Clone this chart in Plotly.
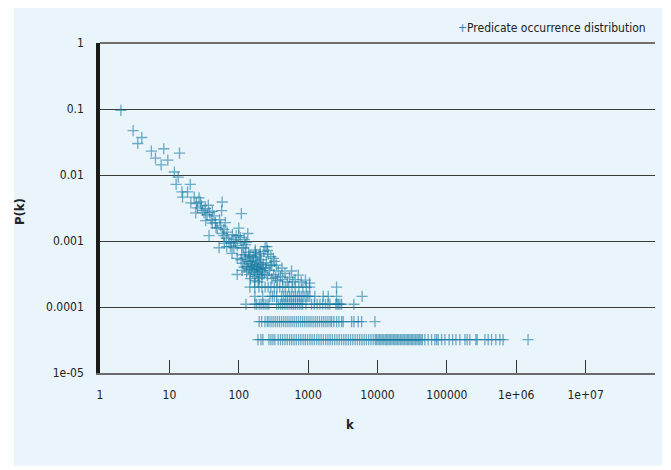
import plotly.graph_objects as go

# ---------------- data ----------------
# sparse head and diagonal cloud: occurrence count k and probability P(k)
cloud_k = [2, 3, 4, 3.5, 5.5, 8.3, 6.3, 9.5, 7.6, 14, 11.8, 13.4, 12.5, 20,
           15.2, 18.3, 15.5, 22.8, 26.8, 20.4, 24.5, 28.2, 25.4, 36.4, 24, 31.6, 41.6, 57.7, 56.6, 109,
           33.4, 41.6, 49, 37.3, 68, 100, 106, 90, 72, 76, 52, 111, 173, 240,
           29, 33, 30, 35, 38, 44, 40, 46, 53, 47, 55, 61, 64, 58, 66, 81, 85, 92, 78, 62, 95, 120, 130, 125, 135,
           61, 100, 67, 85, 118, 80, 95, 111, 139, 173, 204, 254, 316, 299, 95, 373, 464, 577, 720, 915,
           108, 115, 122, 128, 134, 140, 146, 152, 158, 164, 170, 176, 182, 188, 195, 202, 210, 218, 226,
           112, 120, 130, 138, 144, 150, 155, 160, 168, 172, 180, 186, 192, 198, 205, 212, 222,
           126, 145, 162, 178, 200, 148, 170, 190, 215, 235, 245, 250, 260, 275, 285, 300, 320, 340, 360,
           400, 430, 500, 540, 600, 650, 800, 1050,
           230, 265, 290, 330, 350, 420, 260]
cloud_p = [0.095, 0.047, 0.037, 0.030, 0.023, 0.025, 0.018, 0.0168, 0.0142, 0.0214, 0.0111, 0.0093, 0.0072, 0.0072,
           0.00556, 0.00556, 0.00461, 0.00461, 0.0045, 0.00378, 0.0037, 0.0039, 0.00317, 0.00348, 0.00266, 0.00266, 0.00282, 0.0039, 0.00289, 0.0026,
           0.00203, 0.00187, 0.00157, 0.00121, 0.00136, 0.00157, 0.00113, 0.000925, 0.00098, 0.00082, 0.00079, 0.00079, 0.00073, 0.00082,
           0.0034, 0.0031, 0.0029, 0.0025, 0.0027, 0.0024, 0.0021, 0.0019, 0.0021, 0.0016, 0.0017, 0.0015, 0.0019, 0.0013, 0.0011, 0.00125, 0.00105, 0.0012, 0.00095, 0.00092, 0.00085, 0.00105, 0.00095, 0.00088, 0.0013,
           0.00121, 0.00121, 0.00082, 0.00079, 0.00078, 0.00065, 0.000546, 0.000616, 0.000675, 0.000675, 0.00065, 0.00082, 0.000546, 0.000433, 0.000311, 0.000351, 0.000322, 0.000351, 0.000305, 0.000256,
           0.00052, 0.00046, 0.00055, 0.00041, 0.00049, 0.00058, 0.00044, 0.00037, 0.00051, 0.00046, 0.00040, 0.00055, 0.00034, 0.00048, 0.00042, 0.00037, 0.00052, 0.00031, 0.00045,
           0.00036, 0.00040, 0.00034, 0.00038, 0.00031, 0.00049, 0.00042, 0.00033, 0.00036, 0.00029, 0.00041, 0.00038, 0.00031, 0.00027, 0.00044, 0.00035, 0.00039,
           0.00062, 0.00060, 0.00057, 0.00062, 0.00059, 0.00027, 0.00025, 0.00024, 0.00028, 0.00033, 0.00039, 0.00047, 0.00030, 0.00036, 0.00042, 0.00027, 0.00031, 0.00028, 0.00025,
           0.00029, 0.00026, 0.00024, 0.00028, 0.00024, 0.00026, 0.00024, 0.00023,
           0.00069, 0.00063, 0.00058, 0.00049, 0.00043, 0.00039, 0.00072]

# quantised low-probability rows (P value of each row, and the k values on it)
row1_p = 3.2e-5
row1_k = [189, 209, 223, 272, 291, 311, 332,
          370, 400, 430, 465, 500, 540, 580, 625, 675, 730, 785, 845, 910, 980, 1060, 1140, 1230,
          1330, 1430, 1540, 1660, 1790, 1930, 2080, 2240, 2420, 2610, 2810, 3030, 3270, 3520, 3800,
          4090, 4410, 4760, 5130, 5530, 5960, 6420, 6920, 7460, 8040, 8660, 9300,
          9700, 10200, 10700, 11200, 11700, 12300, 12900, 13500, 14100, 14800, 15500, 16200, 17000,
          17800, 18600, 19500, 20400, 21400, 22400, 23400, 24500, 25700, 26900, 28100, 29400, 30800,
          32200, 33700, 35300, 37000, 38700, 40500, 42400, 44300,
          48200, 53800, 60200, 67100, 71100, 75000, 83900, 93600, 108000, 121000, 135000, 154000,
          182000, 196000, 214000, 262000, 273000, 353000, 394000, 441000, 508000, 581000, 647000,
          1480000]
row2_p = 6.0e-5
row2_k = [197, 214, 239, 258, 272, 292, 313, 336, 360, 386, 414, 444, 476, 511, 548, 588, 630, 676,
          725, 778, 834, 895, 960, 1030, 1100, 1180, 1270, 1360, 1460, 1570, 1680, 1800, 1930, 2070,
          2180, 2350, 2570, 2780, 3040, 3200, 4230, 4570, 5270, 5900, 9180]
row3_p = 1.1e-4
row3_k = [127, 171, 181, 197, 210, 225, 240, 256, 271, 352, 375, 400, 425, 452, 480, 510, 545, 580,
          615, 655, 700, 745, 790, 835, 930, 1120, 1230, 1350, 1480, 1620, 1780, 1930, 2060,
          2510, 2620, 2740, 2880, 3040, 4570]
row4_p = 1.45e-4
row4_k = [171, 221, 282, 305, 325, 352, 415, 445, 475, 505, 540, 575, 615, 655, 700, 745, 795, 845,
          900, 960, 1000, 1060, 1250, 1650, 1950, 2570, 6000]
row5_p = 2.0e-4
row5_k = [145, 170, 195, 215, 240, 265, 290, 325, 355, 390, 430, 470, 525, 585, 650, 735, 840, 945,
          1050, 2570]

x_tick_vals = [1, 10, 100, 1000, 10000, 100000, 1000000, 10000000]
x_tick_text = ["1", "10", "100", "1000", "10000", "100000", "1e+06", "1e+07"]
y_tick_vals = [1, 0.1, 0.01, 0.001, 0.0001, 0.00001]
y_tick_text = ["1", "0.1", "0.01", "0.001", "0.0001", "1e-05"]
series_name = "Predicate occurrence distribution"

# ---------------- assemble ----------------
all_k = list(cloud_k)
all_p = list(cloud_p)
for p, ks in [(row1_p, row1_k), (row2_p, row2_k), (row3_p, row3_k), (row4_p, row4_k), (row5_p, row5_k)]:
    all_k += ks
    all_p += [p] * len(ks)

MARK = "rgba(22,122,162,0.6)"
FONT = "Liberation Sans Narrow, DejaVu Sans Condensed, Roboto, sans-serif"
BG = "#e9f4fb"

fig = go.Figure()
fig.add_trace(go.Scatter(
    x=all_k, y=all_p, mode="markers", name=series_name, showlegend=False,
    marker=dict(symbol="cross-thin", size=8, line=dict(width=1.3, color=MARK), color=MARK),
))

# the page body has an 8px default margin, so the figure is 8px smaller than the window
fig.update_layout(
    width=663, height=462,
    margin=dict(l=92, r=16, t=35, b=97),
    paper_bgcolor="white", plot_bgcolor=BG,
    font=dict(family=FONT, size=12, color="#222"),
    shapes=[
        dict(type="rect", xref="paper", yref="paper", x0=-0.155, x1=1.0126, y0=-0.281, y1=1.121,
             fillcolor=BG, line=dict(width=0), layer="below"),
        dict(type="line", xref="paper", yref="paper", x0=0, x1=1, y0=1, y1=1,
             line=dict(color="#707070", width=2)),
    ],
    xaxis=dict(type="log", range=[0, 8], tickvals=x_tick_vals, ticktext=x_tick_text,
               showgrid=False, zeroline=False, showline=True, linecolor="#6a6a6a", linewidth=1.5,
               ticks="inside", ticklen=13, tickwidth=1, tickcolor="#333",
               ticklabelstandoff=10, tickfont=dict(size=12, color="#222")),
    yaxis=dict(type="log", range=[-5, 0], tickvals=y_tick_vals, ticktext=y_tick_text,
               showgrid=True, gridcolor="#3c3c3c", gridwidth=1.2, zeroline=False,
               showline=True, linecolor="#1a1a1a", linewidth=3.5, ticks="",
               ticklabelstandoff=10, tickfont=dict(size=12, color="#222")),
    annotations=[
        dict(text="<b>k</b>", xref="paper", yref="paper", x=0.45, y=-0.185, showarrow=False,
             font=dict(size=13, color="#222")),
        dict(text="<b>P(k)</b>", xref="paper", yref="paper", x=-0.161, y=0.488, showarrow=False,
             textangle=-90, font=dict(size=13, color="#222")),
        dict(text="<span style='color:#1f86b0'>+</span>" + series_name, xref="paper", yref="paper",
             x=0.988, y=1.045, xanchor="right", yanchor="middle", showarrow=False,
             font=dict(size=12, color="#222")),
    ],
)

fig.write_html("out.html")
